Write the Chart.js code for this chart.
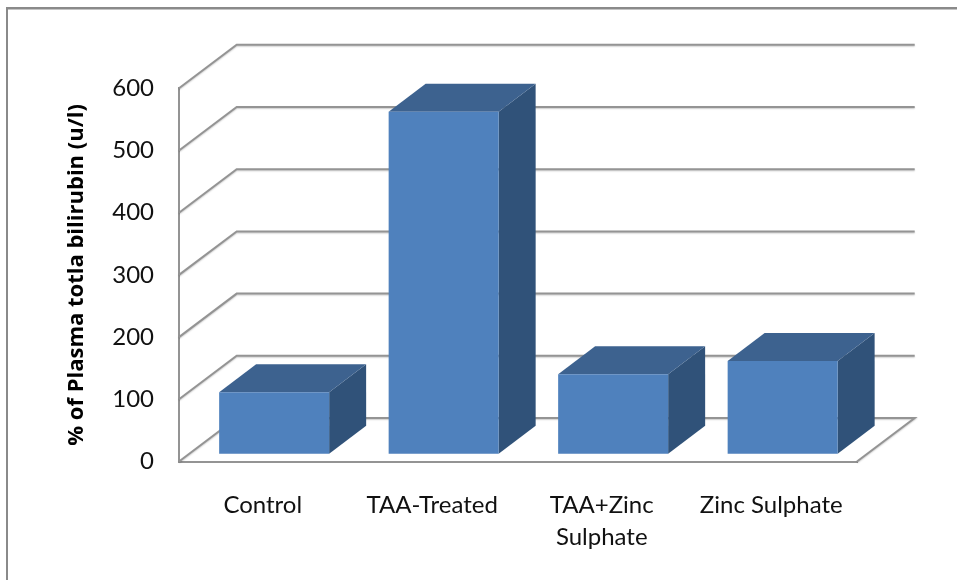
<!DOCTYPE html>
<html>
<head>
<meta charset="utf-8">
<style>
  html, body { margin: 0; padding: 0; background: #fff; overflow: hidden; }
  canvas { display: block; }
</style>
<script src="https://cdn.jsdelivr.net/npm/chart.js@4/dist/chart.umd.min.js"></script>
</head>
<body>
<canvas id="chart" width="957" height="580"></canvas>
<script>
// Plasma bilirubin per treatment group
const categories = ['Control', 'TAA-Treated', ['TAA+Zinc', 'Sulphate'], 'Zinc Sulphate'];
const plasmaBilirubin = [99, 550, 128, 149];
const axisMin = 0;
const axisMax = 600;
const axisStep = 100;
const axisTitle = '% of Plasma totla bilirubin (u/l)';

// Oblique projection used for the floor, side wall and box tops
const wallDepth = { x: 57.7, y: -43.5 };
const boxDepth = { x: 37, y: -28 };
const boxInset = { x: 10.4, y: -7.75 };

const lineColor = '#949494';
const faceColor = '#4f81bd';
const topColor = '#3d628f';
const sideColor = '#305279';
const fontFamily = 'Lato, "Open Sans", sans-serif';
const titleFontFamily = '"Open Sans", Lato, sans-serif';

function softLine(ctx, points) {
  ctx.save();
  ctx.strokeStyle = lineColor;
  ctx.lineWidth = 2;
  ctx.lineJoin = 'miter';
  ctx.shadowColor = 'rgba(0,0,0,0.2)';
  ctx.shadowBlur = 1.5;
  ctx.shadowOffsetY = 1;
  ctx.beginPath();
  points.forEach((p, i) => i ? ctx.lineTo(p[0], p[1]) : ctx.moveTo(p[0], p[1]));
  ctx.stroke();
  ctx.restore();
}

function fillPoly(ctx, color, points) {
  ctx.fillStyle = color;
  ctx.beginPath();
  points.forEach((p, i) => i ? ctx.lineTo(p[0], p[1]) : ctx.moveTo(p[0], p[1]));
  ctx.closePath();
  ctx.fill();
}

// Outer frame of the figure, open towards the right and bottom edges
const framePlugin = {
  id: 'figureFrame',
  beforeDraw(chart) {
    const { ctx, width, height } = chart;
    ctx.save();
    ctx.fillStyle = '#fff';
    ctx.fillRect(0, 0, width, height);
    ctx.fillStyle = '#c4c4c4';
    ctx.fillRect(6, 9, width - 6, 1);
    ctx.fillStyle = '#8a8a8a';
    ctx.fillRect(6, 7, width - 6, 2);
    ctx.fillRect(6, 7, 2, height - 7);
    ctx.restore();
  }
};

// Side wall, back wall grid lines and floor of the 3D plot box
const wallsPlugin = {
  id: 'plotWalls',
  beforeDatasetsDraw(chart) {
    const { ctx, chartArea: a, scales: { y } } = chart;
    y.ticks.forEach(t => {
      const py = y.getPixelForValue(t.value);
      const pts = [[a.left, py], [a.left + wallDepth.x, py + wallDepth.y], [a.right + wallDepth.x, py + wallDepth.y]];
      if (t.value === axisMin) {
        pts.push([a.right, py]);
      }
      softLine(ctx, pts);
    });
  }
};

// Offsets the boxes into the plot depth and adds their top and side faces;
// the front face is the bar the library draws inside this transform.
const boxPlugin = {
  id: 'barBoxes',
  beforeDatasetDraw(chart, args) {
    const { ctx } = chart;
    const meta = chart.getDatasetMeta(args.index);
    ctx.save();
    ctx.translate(boxInset.x, boxInset.y);
    meta.data.forEach(bar => {
      const { x, y, base, width } = bar.getProps(['x', 'y', 'base', 'width'], true);
      const l = x - width / 2, r = x + width / 2;
      const dx = boxDepth.x, dy = boxDepth.y;
      fillPoly(ctx, sideColor, [[r, y], [r + dx, y + dy], [r + dx, base + dy], [r, base]]);
      fillPoly(ctx, topColor, [[l, y], [l + dx, y + dy], [r + dx, y + dy], [r, y]]);
    });
  },
  afterDatasetDraw(chart) {
    chart.ctx.restore();
  }
};

new Chart(document.getElementById('chart'), {
  type: 'bar',
  data: {
    labels: categories,
    datasets: [{
      data: plasmaBilirubin,
      backgroundColor: faceColor,
      borderWidth: 0,
      barPercentage: 0.649,
      categoryPercentage: 1,
      clip: false
    }]
  },
  plugins: [framePlugin, wallsPlugin, boxPlugin],
  options: {
    responsive: false,
    animation: false,
    layout: { padding: { top: 88.3, right: 100, left: 0, bottom: 0 } },
    plugins: { legend: { display: false }, tooltip: { enabled: false } },
    scales: {
      x: {
        grid: { display: false, drawTicks: false },
        border: { display: true, color: lineColor, width: 2 },
        ticks: {
          autoSkip: false,
          maxRotation: 0,
          padding: 28,
          labelOffset: -1,
          color: '#111',
          font: { family: fontFamily, size: 24, lineHeight: 32 / 24 }
        },
        afterFit(scale) { scale.height = 118.5; }
      },
      y: {
        min: axisMin,
        max: axisMax,
        grid: { display: false, drawTicks: false },
        border: { display: true, color: lineColor, width: 2 },
        ticks: {
          stepSize: axisStep,
          padding: 25,
          color: '#111',
          font: { family: fontFamily, size: 24 }
        },
        title: {
          display: true,
          text: axisTitle,
          color: '#000',
          padding: { top: 64, bottom: 0 },
          font: { family: titleFontFamily, size: 22, weight: 'bold', lineHeight: 1.2 }
        },
        afterFit(scale) { scale.width = 179; }
      }
    }
  }
});
</script>
</body>
</html>
